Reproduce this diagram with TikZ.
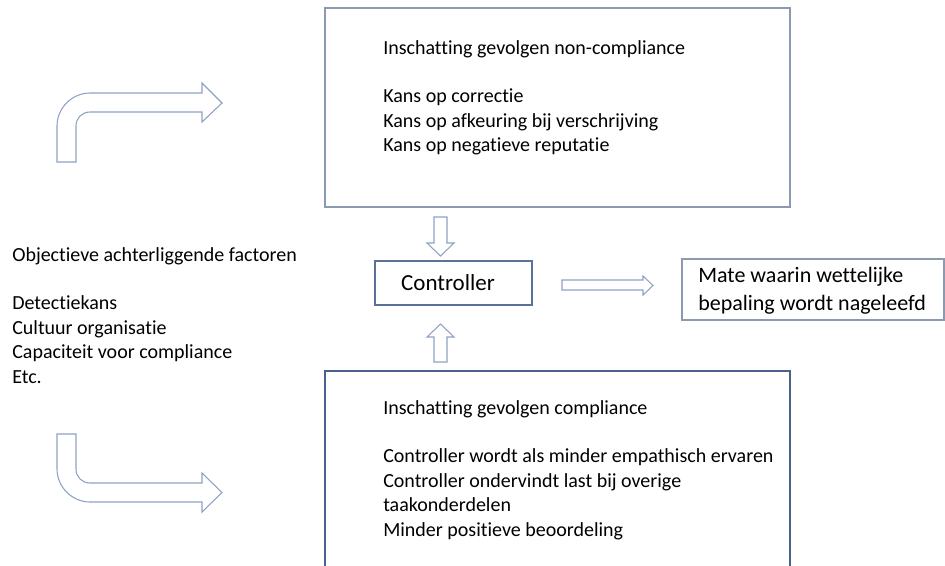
\documentclass[tikz,border=0pt]{standalone}
\usepackage{fontspec}
\setmainfont{Carlito}[Ligatures=NoCommon]
\definecolor{boxgray}{HTML}{8C9AB0}
\definecolor{boxblue}{HTML}{4A6190}
\definecolor{ctrlblue}{HTML}{5B7199}
\definecolor{arrowblue}{HTML}{8FA2C4}
\begin{document}
\begin{tikzpicture}[x=0.75pt,y=-0.75pt,
  txt/.style={inner sep=0pt,align=left,anchor=base west,font=\fontsize{15}{18.3}\selectfont},
  frame/.style={draw=#1,line width=1pt},
  blockarrow/.style={draw=arrowblue,line width=0.8pt,fill=white,line join=miter}]
\useasboundingbox (0,0) rectangle (945,565);

% top box
\node[frame=boxgray,minimum width=348.75pt,minimum height=149.25pt,inner sep=0pt] (topbox) at (557.5,107.5) {};
% anchor base = baseline of last line
\node[txt] (toptext) at (383,151.6) {Inschatting gevolgen non-compliance\\ \mbox{}\\ Kans op correctie\\ Kans op afkeuring bij verschrijving\\ Kans op negatieve reputatie};

% bottom box (open at bottom)
\draw[frame=boxblue] (325,566) -- (325,371) -- (790,371) -- (790,566);
\coordinate (botbox) at (557.5,371);
\node[txt] (bottext) at (383,536) {Inschatting gevolgen compliance\\ \mbox{}\\ Controller wordt als minder empathisch ervaren\\ Controller ondervindt last bij overige\\ taakonderdelen\\ Minder positieve beoordeling};

% left text
\node[txt] (lefttext) at (12,383) {Objectieve achterliggende factoren\\ \mbox{}\\ Detectiekans\\ Cultuur organisatie\\ Capaciteit voor compliance\\ Etc.};

% controller
\node[frame=ctrlblue,minimum width=117.75pt,minimum height=33pt,inner sep=0pt] (ctrl) at (453.5,283) {};
\node[inner sep=0pt,font=\fontsize{17.25}{20}\selectfont] (ctrltext) at (448,283) {Controller};

% result box
\node[frame=boxgray,minimum width=196.5pt,minimum height=45.75pt,inner sep=0pt] (result) at (813,289.5) {};
\node[inner sep=0pt,align=left,anchor=base west,font=\fontsize{16.5}{21}\selectfont] (resulttext) at (698,310) {Mate waarin wettelijke\\ bepaling wordt nageleefd};

% down arrow (top box -> controller)
\draw[blockarrow] (434,217) -- (447,217) -- (447,243) -- (454,243) -- (440.5,256) -- (427,243) -- (434,243) -- cycle;
% up arrow (bottom box -> controller)
\draw[blockarrow] (434,362) -- (447,362) -- (447,337) -- (454,337) -- (440.5,324) -- (427,337) -- (434,337) -- cycle;
% right arrow (controller -> result)
\draw[blockarrow] (562,280) -- (643,280) -- (643,276) -- (653,285.5) -- (643,295) -- (643,290) -- (562,290) -- cycle;

% top bent arrow
\draw[blockarrow] (57,162) -- (57,126) .. controls (57,108) and (72,93) .. (90,93) -- (202,93) -- (202,83) -- (222,103) -- (202,122) -- (202,112) -- (90,112) .. controls (82,112) and (76,118) .. (76,126) -- (76,162) -- cycle;

% bottom bent arrow
\draw[blockarrow] (57,434) -- (76,434) -- (76,469) .. controls (76,477) and (82,483) .. (90,483) -- (202,483) -- (202,473) -- (222,492.5) -- (202,512) -- (202,502) -- (90,502) .. controls (72,502) and (57,487) .. (57,469) -- cycle;
\end{tikzpicture}
\end{document}
